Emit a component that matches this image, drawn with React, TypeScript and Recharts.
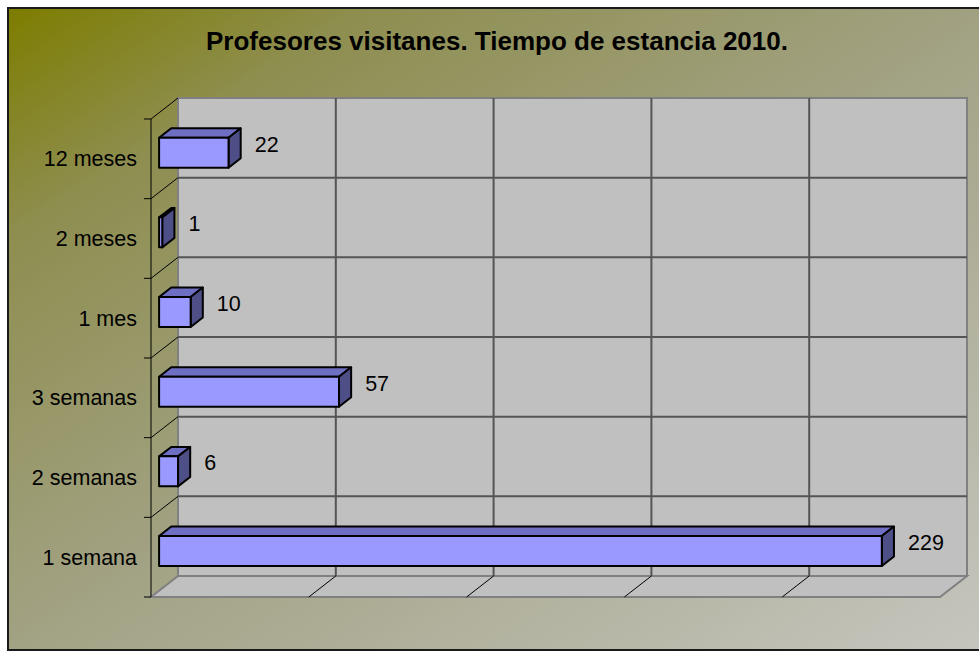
import { BarChart, Bar, XAxis, YAxis, ReferenceArea, ReferenceLine, LabelList } from 'recharts'

const categories = ['12 meses', '2 meses', '1 mes', '3 semanas', '2 semanas', '1 semana']
const visitors = [22, 1, 10, 57, 6, 229]
const valueTicks = [0, 50, 100, 150, 200, 250]

const data = categories.map((name, i) => ({ name, value: visitors[i] }))

// 3D depth of the plot box (back wall offset from the front plane)
const DX = 27
const DY = -21
// bars sit part-way into the depth
const BAR_OX = DX * 0.3
const BAR_OY = DY * 0.3
const BAR_DX = DX * 0.45
const BAR_DY = DY * 0.45

const FONT = '"Liberation Sans", Arial, sans-serif'
const GRID = '#555555'
const EDGE = '#808080'
const WALL = '#c0c0c0'

function Walls(p: any) {
  const { x, y, width: w, height: h } = p
  const b = y + h
  return (
    <g>
      <rect x={x + DX} y={y + DY} width={w} height={h} fill={WALL} stroke={EDGE} strokeWidth={2} />
      <polygon
        points={`${x},${b} ${x + w},${b} ${x + w + DX},${b + DY} ${x + DX},${b + DY}`}
        fill={WALL}
        stroke={EDGE}
        strokeWidth={2}
      />
      <line x1={x} y1={y} x2={x} y2={b} stroke="#000" strokeWidth={1} />
    </g>
  )
}

function BandEdge(p: any) {
  const { x, y, width: w, height: h, first, last } = p
  return (
    <g>
      {!first && (
        <line x1={x + DX} y1={y + DY} x2={x + w + DX} y2={y + DY} stroke={GRID} strokeWidth={2} />
      )}
      <line x1={x} y1={y} x2={x + DX} y2={y + DY} stroke="#000" strokeWidth={1} />
      <line x1={x - 7} y1={y} x2={x} y2={y} stroke="#000" strokeWidth={1} />
      {last && <line x1={x - 7} y1={y + h} x2={x} y2={y + h} stroke="#000" strokeWidth={1} />}
    </g>
  )
}

function ValueGrid(p: any) {
  const { x1, y1, y2 } = p
  const top = Math.min(y1, y2)
  const bottom = Math.max(y1, y2)
  return (
    <g>
      <line x1={x1 + DX} y1={top + DY} x2={x1 + DX} y2={bottom + DY} stroke={GRID} strokeWidth={2} />
      <line x1={x1} y1={bottom} x2={x1 + DX} y2={bottom + DY} stroke="#000" strokeWidth={1} />
    </g>
  )
}

function Box3D(p: any) {
  const { x, y, width, height } = p
  const w = Math.max(width, 0)
  const fx = x + BAR_OX
  const fy = y + BAR_OY
  return (
    <g stroke="#000" strokeWidth={2} strokeLinejoin="round">
      <polygon
        points={`${fx},${fy} ${fx + w},${fy} ${fx + w + BAR_DX},${fy + BAR_DY} ${fx + BAR_DX},${fy + BAR_DY}`}
        fill="#6e6ec2"
      />
      <polygon
        points={`${fx + w},${fy} ${fx + w + BAR_DX},${fy + BAR_DY} ${fx + w + BAR_DX},${fy + BAR_DY + height} ${fx + w},${fy + height}`}
        fill="#4f4f88"
      />
      <rect x={fx} y={fy} width={w} height={height} fill="#9999ff" />
    </g>
  )
}

function ValueLabel(p: any) {
  const vb = p.viewBox || p
  const { x, y, width, height } = vb
  return (
    <text
      x={x + width + BAR_OX + BAR_DX + 14}
      y={y + BAR_OY + height / 2 - 8}
      fontSize={21.5}
      fontFamily={FONT}
      fill="#000"
      dominantBaseline="central"
    >
      {p.value}
    </text>
  )
}

export default function App() {
  return (
    <div style={{ position: 'relative', width: 979, height: 652, overflow: 'hidden' }}>
      <style>{'body{margin:0;overflow:hidden}'}</style>
      <div
        style={{
          position: 'absolute',
          left: 7,
          top: 7,
          width: 1000,
          height: 644,
          boxSizing: 'border-box',
          border: '2px solid #1a1a1a',
          background: 'linear-gradient(to bottom right, #7d7d00 0%, #8e8e50 18%, #a2a284 50%, #c6c6c0 100%)',
        }}
      />
      <div
        style={{
          position: 'absolute',
          left: 0,
          top: 28,
          width: 994,
          textAlign: 'center',
          fontFamily: FONT,
          fontWeight: 'bold',
          fontSize: 26,
          lineHeight: '26px',
          color: '#000',
        }}
      >
        Profesores visitanes. Tiempo de estancia 2010.
      </div>
      <div style={{ position: 'absolute', left: 0, top: 0 }}>
        <BarChart
          width={979}
          height={652}
          data={data}
          layout="vertical"
          margin={{ top: 119, right: 39, bottom: 55, left: 11 }}
        >
          <XAxis type="number" domain={[0, 250]} ticks={valueTicks} hide />
          <YAxis
            type="category"
            dataKey="name"
            width={140}
            axisLine={false}
            tickLine={false}
            tickSize={7}
            tickMargin={7}
            tick={{ fontSize: 21.5, fill: '#000', fontFamily: FONT }}
          />
          <ReferenceArea x1={0} x2={250} zIndex={-30} shape={Walls} />
          {valueTicks.slice(1, -1).map((v) => (
            <ReferenceLine key={v} x={v} zIndex={-20} shape={ValueGrid} />
          ))}
          {categories.map((c, i) => (
            <ReferenceArea
              key={c}
              y1={c}
              y2={c}
              zIndex={-20}
              shape={(p: any) => <BandEdge {...p} first={i === 0} last={i === categories.length - 1} />}
            />
          ))}
          <Bar dataKey="value" barSize={30} isAnimationActive={false} shape={Box3D}>
            <LabelList dataKey="value" content={ValueLabel} />
          </Bar>
        </BarChart>
      </div>
    </div>
  )
}
